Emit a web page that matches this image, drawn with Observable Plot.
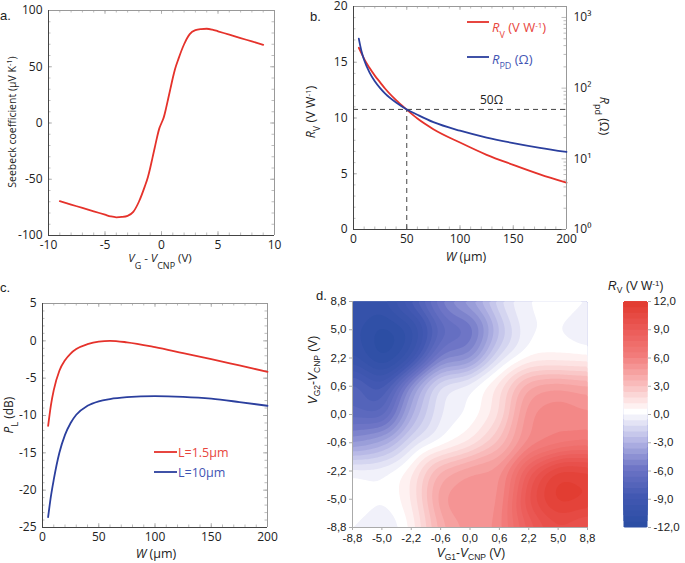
<!DOCTYPE html>
<html><head><meta charset="utf-8">
<script src="https://cdn.jsdelivr.net/npm/d3@7"></script>
<script src="https://cdn.jsdelivr.net/npm/@observablehq/plot@0.6"></script>
<style>
body{margin:0;background:#fff;}
#fig{position:relative;width:685px;height:563px;overflow:hidden;font-family:"Open Sans",sans-serif;color:#222;}
</style></head><body><div id="fig"></div>
<script>
// ---------- data ----------
// panel a: Seebeck coefficient vs gate voltage
const seebeckVg = [-9,-8,-7,-6,-5,-4.5,-4,-3.5,-3,-2.5,-2,-1.5,-1.2,-1,-0.8,-0.6,-0.4,-0.2,0,0.2,0.4,0.6,0.8,1,1.2,1.5,2,2.5,3,3.5,4,4.5,5,6,7,8,9];
const seebeckS  = [-69.5,-72.5,-75.5,-78.5,-81.5,-83,-83.8,-83.5,-82.5,-79,-70,-57,-48,-40,-31,-22,-13,-5,0,5,13,22,31,40,48,57,70,79,82.5,83.5,83.8,83,81.5,78.5,75.5,72.5,69.5];
// panel b: responsivity and resistance vs width
const widthW = [5,7.5,10,15,20,25,30,40,50,60,75,100,125,150,175,200];
const rvW    = [16.3,15.8,15.3,14.5,13.8,13.2,12.6,11.6,10.75,9.95,9.0,7.8,6.7,5.8,4.95,4.2];
const rpdW   = [500,333,250,167,125,100,83,62.5,50,42,33,25,20,16.7,14.3,12.5];
const refOhm = 50, refW = 50;
// panel c: P_L vs width
const plW     = [5,7.5,10,15,20,25,30,40,50,60,75,100,125,150,175,200];
const plShort = [-11.4,-8.6,-6.6,-4.0,-2.6,-1.7,-1.1,-0.45,-0.1,0,-0.2,-0.85,-1.65,-2.45,-3.3,-4.15];
const plLong  = [-23.6,-20.8,-18.6,-15.0,-12.6,-11.0,-9.9,-8.7,-8.1,-7.8,-7.55,-7.4,-7.5,-7.75,-8.2,-8.7];
// panel d: R_V map (rows from V_G2 = 8.8 down to -8.8, columns V_G1 = -8.8 .. 8.8)
const gateTicks = [-8.8,-5.0,-2.2,-0.6,0.0,0.6,2.2,5.0,8.8];
const rvGrid = [
  [-10,-10.5,-8,-5,-3.5,-1,0,0.8,0],
  [-10.5,-12,-11,-7,-6.5,-2.5,0,0,-1],
  [-10,-12,-10,-5,-5,-1,0.5,0.5,0.5],
  [-7,-9,-4,-0.5,0,1.5,4.5,5,4.5],
  [-7,-7.5,-3,-0.5,0,1.5,5.5,6,5.5],
  [-4.5,-3.5,-1,0,1,3,5.5,6,6.5],
  [0,0,1,4,5,5,9,11.5,11],
  [1,0,1,5,5.5,5,10,12,11.5],
  [0,-1,0.5,4,5,5.5,8.5,10,9]
];
const cbTicks = [-12,-9,-6,-3,0,3,6,9,12];

// ---------- style ----------
const RED = "#e5322b", BLUE = "#2b3f9e";
const fig = document.getElementById("fig");
function place(el, left, top) {
  Object.assign(el.style, {position: "absolute", left: left + "px", top: top + "px", background: "transparent", overflow: "visible"});
  fig.appendChild(el);
  return el;
}
const G = "#a0a0a0";
function inTicksX(vals, fw, fh, len) {
  return [
    Plot.ruleX(vals, {insetTop: fh - len, stroke: G, strokeWidth: 0.7}),
    Plot.ruleX(vals, {insetBottom: fh - len, stroke: G, strokeWidth: 0.7})
  ];
}
function inTicksY(vals, fw, fh, len, sides = ["l", "r"]) {
  const m = [];
  if (sides.includes("l")) m.push(Plot.ruleY(vals, {insetRight: fw - len, stroke: G, strokeWidth: 0.7}));
  if (sides.includes("r")) m.push(Plot.ruleY(vals, {insetLeft: fw - len, stroke: G, strokeWidth: 0.7}));
  return m;
}
const fmtInt = d => String(d);
const fmtC = v => v.toFixed(1).replace(".", ",");

// ---------- panel a ----------
{
  const fw = 226, fh = 225;
  const pts = seebeckVg.map((v, i) => ({v, s: seebeckS[i]}));
  const p = Plot.plot({
    width: 300, height: 280, marginLeft: 48, marginRight: 26, marginTop: 10, marginBottom: 45,
    style: {fontSize: "12px", fontFamily: "Open Sans"},
    x: {domain: [-10, 10]}, y: {domain: [-100, 100]},
    marks: [
      ...inTicksX(d3.range(-10, 10.1, 1), fw, fh, 2.5),
      ...inTicksX(d3.range(-10, 10.1, 5), fw, fh, 4),
      ...inTicksY(d3.range(-100, 101, 10), fw, fh, 2.5),
      ...inTicksY(d3.range(-100, 101, 50), fw, fh, 4),
      Plot.ruleY([100], {stroke: "#999"}), Plot.ruleX([10], {stroke: "#999"}),
      Plot.ruleY([-100], {stroke: "#444"}), Plot.ruleX([-10], {stroke: "#444"}),
      Plot.axisX({ticks: [-10, -5, 0, 5, 10], tickSize: 0, tickPadding: 5, tickFormat: fmtInt, label: null}),
      Plot.axisY({ticks: [-100, -50, 0, 50, 100], tickSize: 0, tickPadding: 6, tickFormat: fmtInt, label: null}),
      Plot.line(pts, {x: "v", y: "s", stroke: RED, strokeWidth: 1.8, curve: "monotone-x"})
    ]
  });
  place(p, 0, 0);
}

// ---------- panel b ----------
{
  const fw = 213, fh = 223;
  const common = {width: 300, height: 280, marginLeft: 53, marginRight: 34, marginTop: 6, marginBottom: 51,
    style: {fontSize: "12px", fontFamily: "Open Sans"}};
  const rv = widthW.map((w, i) => ({w, r: rvW[i]}));
  const rp = widthW.map((w, i) => ({w, r: rpdW[i]}));
  const left = Plot.plot({
    ...common,
    x: {domain: [0, 200]}, y: {domain: [0, 20]},
    marks: [
      ...inTicksX(d3.range(0, 201, 10), fw, fh, 2.5),
      ...inTicksX(d3.range(0, 201, 50), fw, fh, 4),
      ...inTicksY(d3.range(0, 20.1, 1), fw, fh, 2.5, ["l"]),
      ...inTicksY(d3.range(0, 20.1, 5), fw, fh, 4, ["l"]),
      Plot.ruleY([20], {stroke: "#999"}),
      Plot.ruleY([0], {stroke: "#444"}), Plot.ruleX([0], {stroke: "#444"}),
      Plot.axisX({ticks: [0, 50, 100, 150, 200], tickSize: 0, tickPadding: 5, tickFormat: fmtInt, label: null}),
      Plot.axisY({ticks: [0, 5, 10, 15, 20], tickSize: 0, tickPadding: 6, tickFormat: fmtInt, label: null}),
      Plot.line(rv, {x: "w", y: "r", stroke: RED, strokeWidth: 1.8, curve: "monotone-x"})
    ]
  });
  place(left, 300, 0);
  const logMinor = [];
  for (const e of [1, 10, 100]) for (let k = 2; k <= 9; k++) logMinor.push(e * k);
  const right = Plot.plot({
    ...common,
    x: {domain: [0, 200], axis: null}, y: {type: "log", domain: [1, 1429], axis: null},
    marks: [
      ...inTicksY(logMinor, fw, fh, 2.5, ["r"]),
      ...inTicksY([1, 10, 100, 1000], fw, fh, 4.5, ["r"]),
      Plot.ruleX([200], {stroke: "#999"}),
      Plot.axisY({anchor: "right", ticks: [1, 10, 100, 1000], tickSize: 0, tickPadding: 7,
        tickFormat: d => ({1: "10⁰", 10: "10¹", 100: "10²", 1000: "10³"})[d], label: null}),
      Plot.ruleY([refOhm], {stroke: "#444", strokeWidth: 1, strokeDasharray: "5,4"}),
      Plot.ruleX([refW], {y1: 1, y2: refOhm, stroke: "#444", strokeWidth: 1, strokeDasharray: "5,4"}),
      Plot.line(rp, {x: "w", y: "r", stroke: BLUE, strokeWidth: 1.8, curve: "monotone-x"})
    ]
  });
  place(right, 300, 0);
}

// ---------- panel c ----------
{
  const fw = 225, fh = 224;
  const a = plW.map((w, i) => ({w, p: plShort[i]}));
  const b = plW.map((w, i) => ({w, p: plLong[i]}));
  const p = Plot.plot({
    width: 300, height: 283, marginLeft: 42, marginRight: 33, marginTop: 23, marginBottom: 36,
    style: {fontSize: "12px", fontFamily: "Open Sans"},
    x: {domain: [0, 200]}, y: {domain: [-25, 5]},
    marks: [
      ...inTicksX(d3.range(0, 201, 10), fw, fh, 2.5),
      ...inTicksX(d3.range(0, 201, 50), fw, fh, 4),
      ...inTicksY(d3.range(-25, 5.1, 1), fw, fh, 2.5),
      ...inTicksY(d3.range(-25, 5.1, 5), fw, fh, 4),
      Plot.ruleY([5], {stroke: "#999"}), Plot.ruleX([200], {stroke: "#999"}),
      Plot.ruleY([-25], {stroke: "#444"}), Plot.ruleX([0], {stroke: "#444"}),
      Plot.axisX({ticks: [0, 50, 100, 150, 200], tickSize: 0, tickPadding: 5, tickFormat: fmtInt, label: null}),
      Plot.axisY({ticks: [-25, -20, -15, -10, -5, 0, 5], tickSize: 0, tickPadding: 6, tickFormat: fmtInt, label: null}),
      Plot.line(a, {x: "w", y: "p", stroke: RED, strokeWidth: 1.8, curve: "monotone-x"}),
      Plot.line(b, {x: "w", y: "p", stroke: BLUE, strokeWidth: 1.8, curve: "monotone-x"})
    ]
  });
  place(p, 0, 280);
}

// ---------- panel d ----------
const colorOpts = {
  type: "linear",
  domain: [-12, -9, -6, -3, 0, 3, 6, 9, 12],
  range: ["#2c4ea4", "#4258b2", "#6e75c6", "#b8b9e6", "#ffffff", "#f9baba", "#f27b7a", "#ea5753", "#e0362a"]
};
const thresholds = d3.range(-12, 12.001, 0.6).map(v => +v.toFixed(2));
{
  const pts = [];
  rvGrid.forEach((row, r) => row.forEach((v, c) => pts.push({i: c, j: rvGrid.length - 1 - r, v})));
  const p = Plot.plot({
    width: 300, height: 283, marginLeft: 52, marginRight: 13, marginTop: 21, marginBottom: 36,
    style: {fontSize: "11.5px", fontFamily: "Liberation Sans"},
    x: {domain: [0, 8]}, y: {domain: [0, 8]}, color: colorOpts,
    marks: [
      Plot.contour(pts, {x: "i", y: "j", fill: "v", interpolate: "barycentric", blur: 4, thresholds, x1: 0, x2: 8, y1: 0, y2: 8}),
      Plot.ruleX([0], {stroke: "#aaa"}), Plot.ruleY([0], {stroke: "#aaa"}),
      Plot.axisX({ticks: d3.range(9), tickSize: 3, tickPadding: 3, stroke: "#aaa", tickFormat: i => fmtC(gateTicks[i]), label: null}),
      Plot.axisY({ticks: d3.range(9), tickSize: 3, tickPadding: 3, stroke: "#aaa", tickFormat: i => fmtC(gateTicks[i]), label: null})
    ]
  });
  place(p, 300, 280);
  const cb = Plot.plot({
    width: 85, height: 283, marginLeft: 23, marginRight: 38, marginTop: 21, marginBottom: 36,
    style: {fontSize: "11.5px", fontFamily: "Liberation Sans"},
    x: {domain: [0, 1], axis: null}, y: {domain: [-12, 12]}, color: colorOpts,
    marks: [
      Plot.contour({fill: (x, y) => y, x1: 0, x2: 1, y1: -12, y2: 12, thresholds}),
      Plot.axisY({anchor: "right", ticks: cbTicks, tickSize: 3, tickPadding: 3, stroke: "#aaa", tickFormat: fmtC, label: null})
    ]
  });
  place(cb, 600, 280);
}

// ---------- annotations ----------
const ov = document.createElementNS("http://www.w3.org/2000/svg", "svg");
ov.setAttribute("width", 685); ov.setAttribute("height", 563);
ov.style.cssText = "position:absolute;left:0;top:0;pointer-events:none;";
const sub = (t, dy, fs = 9) => `<tspan dy="${dy}" font-size="${fs}">${t}</tspan><tspan dy="${-dy}">`;
ov.innerHTML = `
<g font-family="Liberation Sans" font-size="13" fill="#222">
  <text x="0" y="20">a.</text>
  <text x="310" y="21">b.</text>
  <text x="0" y="292">c.</text>
  <text x="316" y="300">d.</text>
</g>
<g font-family="Open Sans" font-size="11.5" fill="#222">
  <text transform="translate(16,122) rotate(-90)" text-anchor="middle" font-size="10.5">Seebeck coefficient (µV K<tspan dy="-4" font-size="7.5">-1</tspan><tspan dy="4">)</tspan></text>
  <text x="160" y="262" text-anchor="middle"><tspan font-style="italic">V</tspan>${sub("G", 7)} - <tspan font-style="italic">V</tspan>${sub("CNP", 7)} (V)</tspan></tspan></text>

  <text transform="translate(315,112) rotate(-90)" text-anchor="middle" font-size="12.5"><tspan font-style="italic">R</tspan>${sub("V", 5)} (V W<tspan dy="-4" font-size="8">-1</tspan><tspan dy="4">)</tspan></tspan></text>
  <text transform="translate(600,116) rotate(90)" text-anchor="middle" font-size="12.5"><tspan font-style="italic">R</tspan>${sub("pd", 5)} (Ω)</tspan></text>
  <text x="466" y="261" text-anchor="middle" font-size="12.5"><tspan font-style="italic">W</tspan> (µm)</text>
  <text x="480" y="104" font-size="12">50Ω</text>
  <line x1="467" x2="489" y1="22" y2="22" stroke="${RED}" stroke-width="1.8"/>
  <text x="492" y="32" fill="#e8463d" font-size="13"><tspan font-style="italic">R</tspan>${sub("V", 6)} (V W<tspan dy="-4" font-size="8">-1</tspan><tspan dy="4">)</tspan></tspan></text>
  <line x1="467" x2="489" y1="57" y2="57" stroke="${BLUE}" stroke-width="1.8"/>
  <text x="492" y="64" fill="#3f54b3" font-size="13"><tspan font-style="italic">R</tspan>${sub("PD", 5)} (Ω)</tspan></text>

  <text transform="translate(13,415) rotate(-90)" text-anchor="middle" font-size="12"><tspan font-style="italic">P</tspan>${sub("L", 5)} (dB)</tspan></text>
  <text x="156" y="558" text-anchor="middle" font-size="12.5"><tspan font-style="italic">W</tspan> (µm)</text>
  <line x1="154" x2="177" y1="452" y2="452" stroke="${RED}" stroke-width="1.8"/>
  <text x="178" y="457" fill="#e8463d" font-size="12.5">L=1.5µm</text>
  <line x1="154" x2="177" y1="472" y2="472" stroke="${BLUE}" stroke-width="1.8"/>
  <text x="178" y="477" fill="#3f54b3" font-size="12.5">L=10µm</text>
</g>
<g font-family="Liberation Sans" font-size="12" fill="#222">
  <text transform="translate(317,370) rotate(-90)" text-anchor="middle"><tspan font-style="italic">V</tspan>${sub("G2", 3, 8.5)}-<tspan font-style="italic">V</tspan>${sub("CNP", 3, 8.5)} (V)</tspan></tspan></text>
  <text x="471" y="557" text-anchor="middle"><tspan font-style="italic">V</tspan>${sub("G1", 3, 8.5)}-<tspan font-style="italic">V</tspan>${sub("CNP", 3, 8.5)} (V)</tspan></tspan></text>
  <text x="608" y="290"><tspan font-style="italic">R</tspan>${sub("V", 3, 8.5)} (V W<tspan dy="-4" font-size="8">-1</tspan><tspan dy="4">)</tspan></tspan></text>
</g>`;
fig.appendChild(ov);
</script></body></html>
